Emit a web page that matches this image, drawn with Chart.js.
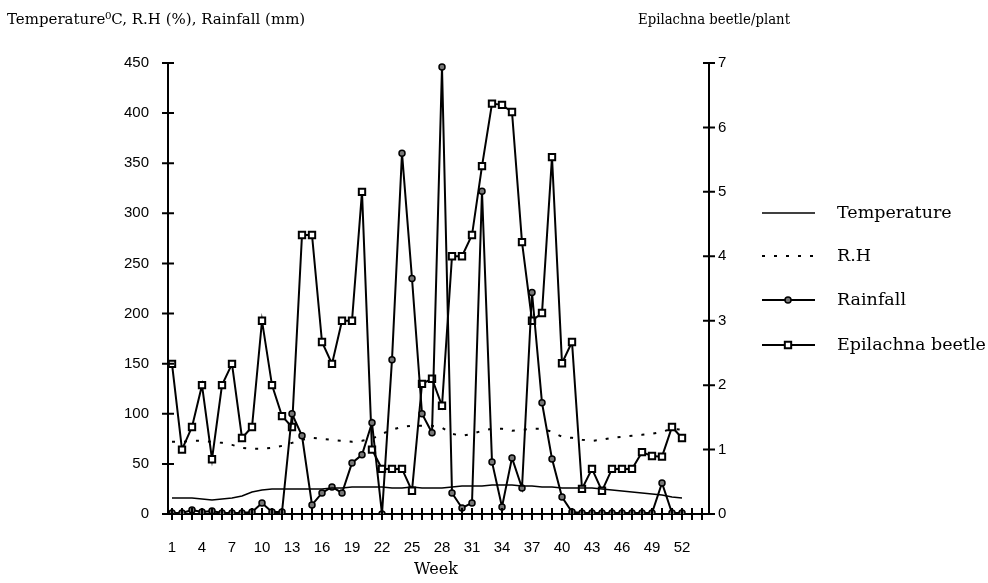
<!DOCTYPE html>
<html lang="en">
<head>
<meta charset="UTF-8">
<title>Epilachna beetle and weather by week</title>
<script src="https://cdn.jsdelivr.net/npm/chart.js"></script>
<style>
    html, body { margin: 0; padding: 0; background: #fff; }
    #wrap { position: relative; width: 988px; height: 583px; }
</style>
</head>
<body>
<div id="wrap"><canvas id="chart" width="988" height="583"></canvas></div>
<script>
// weekly data
const weeks = [1,2,3,4,5,6,7,8,9,10,11,12,13,14,15,16,17,18,19,20,21,22,23,24,25,26,
               27,28,29,30,31,32,33,34,35,36,37,38,39,40,41,42,43,44,45,46,47,48,49,50,51,52];
const temperature = [16,16,16,15,14,15,16,18,22,24,25,25,25,25,25,25,26,26,27,27,27,27,26,26,27,26,
                     26,26,27,28,28,28,29,29,29,28,28,27,27,26,26,26,26,25,24,23,22,21,20,19,17,16];
const rh = [72,72,73,73,72,71,69,66,65,65,66,68,71,74,76,75,74,73,72,73,75,80,84,87,88,88,
            88,86,80,78,80,83,85,85,83,84,85,85,82,77,76,74,73,74,76,77,78,79,80,82,85,84];
const rainfall = [1,1,4,2,3,1,1,1,2,11,2,2,100,78,9,21,27,21,51,59,91,0,154,360,235,100,
                  81,446,21,6,11,322,52,7,56,26,221,111,55,17,2,1,1,1,1,1,1,1,1,31,1,1];
const beetle = [2.33,1.0,1.35,2.0,0.85,2.0,2.33,1.18,1.35,3.0,2.0,1.52,1.35,4.33,4.33,2.67,2.33,3.0,3.0,5.0,1.0,0.7,0.7,0.7,0.36,2.02,
                2.1,1.68,4.0,4.0,4.33,5.4,6.37,6.35,6.24,4.22,3.0,3.12,5.54,2.34,2.67,0.39,0.7,0.36,0.7,0.7,0.7,0.96,0.9,0.89,1.35,1.18];

// axis ticks
const weekLabels = [1,4,7,10,13,16,19,22,25,28,31,34,37,40,43,46,49,52];
const leftTicks = [0,50,100,150,200,250,300,350,400,450];
const rightTicks = [0,1,2,3,4,5,6,7];
const weekMarks = [1,2,3,4,5,6,7,8,9,10,11,12,13,14,15,16,17,18,19,20,21,22,23,24,25,26,27,
                   28,29,30,31,32,33,34,35,36,37,38,39,40,41,42,43,44,45,46,47,48,49,50,51,52,53,54];

const tickFont = { family: '"Liberation Sans", Arial, sans-serif', size: 15 };
const serif = '"DejaVu Serif", serif';

function pts(values) {
    return weeks.map((w, i) => ({ x: w, y: values[i] }));
}

// tick marks that cross the axis lines
const crossTicks = {
    id: 'crossTicks',
    afterDraw(chart) {
        const ctx = chart.ctx;
        const { x, y, y1 } = chart.scales;
        ctx.save();
        ctx.strokeStyle = '#000';
        ctx.lineWidth = 2;
        ctx.beginPath();
        leftTicks.forEach(v => {
            const py = y.getPixelForValue(v);
            ctx.moveTo(y.right - 6, py); ctx.lineTo(y.right + 6, py);
        });
        rightTicks.forEach(v => {
            const py = y1.getPixelForValue(v);
            ctx.moveTo(y1.left - 6, py); ctx.lineTo(y1.left + 6, py);
        });
        weekMarks.forEach(v => {
            const px = x.getPixelForValue(v);
            ctx.moveTo(px, x.top - 6); ctx.lineTo(px, x.top + 6);
        });
        ctx.stroke();
        ctx.restore();
    }
};

// axis titles and legend
const texts = {
    id: 'texts',
    afterDraw(chart) {
        const ctx = chart.ctx;
        ctx.save();
        ctx.fillStyle = '#000';
        ctx.textBaseline = 'middle';
        ctx.textAlign = 'left';
        ctx.font = '15px ' + serif;
        ctx.fillText('Temperature\u2070C, R.H (%), Rainfall (mm)', 7, 20, 306);
        ctx.font = '14px ' + serif;
        ctx.fillText('Epilachna beetle/plant', 638, 20, 152);
        ctx.textAlign = 'center';
        ctx.font = '16px ' + serif;
        ctx.fillText('Week', 436, 570);

        const rows = [213, 256, 300, 345];
        ctx.textAlign = 'left';
        chart.data.datasets.forEach((ds, i) => {
            const ly = rows[i];
            ctx.save();
            ctx.strokeStyle = '#000';
            ctx.lineWidth = ds.borderWidth;
            ctx.setLineDash(ds.borderDash || []);
            ctx.beginPath();
            ctx.moveTo(762, ly); ctx.lineTo(815, ly);
            ctx.stroke();
            ctx.restore();
            if (ds.pointRadius > 0) {
                ctx.save();
                ctx.fillStyle = ds.pointBackgroundColor;
                ctx.strokeStyle = '#000';
                ctx.lineWidth = ds.pointBorderWidth;
                Chart.helpers.drawPoint(ctx, { pointStyle: ds.pointStyle, radius: ds.pointRadius, rotation: 0, borderWidth: ds.pointBorderWidth }, 788, ly);
                ctx.restore();
            }
            ctx.fillStyle = '#000';
            ctx.font = '17.5px ' + serif;
            ctx.fillText(ds.label, 837, ly);
        });
        ctx.restore();
    }
};

new Chart(document.getElementById('chart'), {
    type: 'line',
    data: {
        datasets: [
            { label: 'Temperature', data: pts(temperature), yAxisID: 'y', borderColor: '#000', borderWidth: 1.5, pointRadius: 0, tension: 0 },
            { label: 'R.H', data: pts(rh), yAxisID: 'y', borderColor: '#000', borderWidth: 2, borderDash: [3, 9], pointRadius: 0, tension: 0 },
            { label: 'Rainfall', data: pts(rainfall), yAxisID: 'y', borderColor: '#000', borderWidth: 2, pointRadius: 3, pointStyle: 'circle',
              pointBackgroundColor: '#777', pointBorderColor: '#000', pointBorderWidth: 1.5, tension: 0 },
            { label: 'Epilachna beetle', data: pts(beetle), yAxisID: 'y1', borderColor: '#000', borderWidth: 2, pointRadius: 4.5, pointStyle: 'rect',
              pointBackgroundColor: '#fff', pointBorderColor: '#000', pointBorderWidth: 2, tension: 0 }
        ]
    },
    options: {
        responsive: false,
        animation: false,
        devicePixelRatio: 1,
        layout: { padding: { top: 63, left: 0, right: 0, bottom: 0 } },
        plugins: { legend: { display: false }, tooltip: { enabled: false } },
        scales: {
            x: {
                type: 'linear', position: 'bottom', min: 0.6, max: 54.7,
                grid: { display: false, drawTicks: false },
                border: { display: true, color: '#000', width: 2 },
                afterBuildTicks: s => { s.ticks = weekLabels.map(v => ({ value: v })); },
                afterFit: s => { s.height = 69; },
                ticks: { font: tickFont, color: '#000', padding: 25, maxRotation: 0, autoSkip: false }
            },
            y: {
                position: 'left', min: 0, max: 450,
                grid: { display: false, drawTicks: false },
                border: { display: true, color: '#000', width: 2 },
                afterBuildTicks: s => { s.ticks = leftTicks.map(v => ({ value: v })); },
                afterFit: s => { s.width = 168; },
                ticks: { font: tickFont, color: '#000', padding: 19 }
            },
            y1: {
                position: 'right', min: 0, max: 7,
                grid: { display: false, drawTicks: false },
                border: { display: true, color: '#000', width: 2 },
                afterBuildTicks: s => { s.ticks = rightTicks.map(v => ({ value: v })); },
                afterFit: s => { s.width = 279; },
                ticks: { font: tickFont, color: '#000', padding: 9 }
            }
        }
    },
    plugins: [crossTicks, texts]
});
</script>
</body>
</html>
